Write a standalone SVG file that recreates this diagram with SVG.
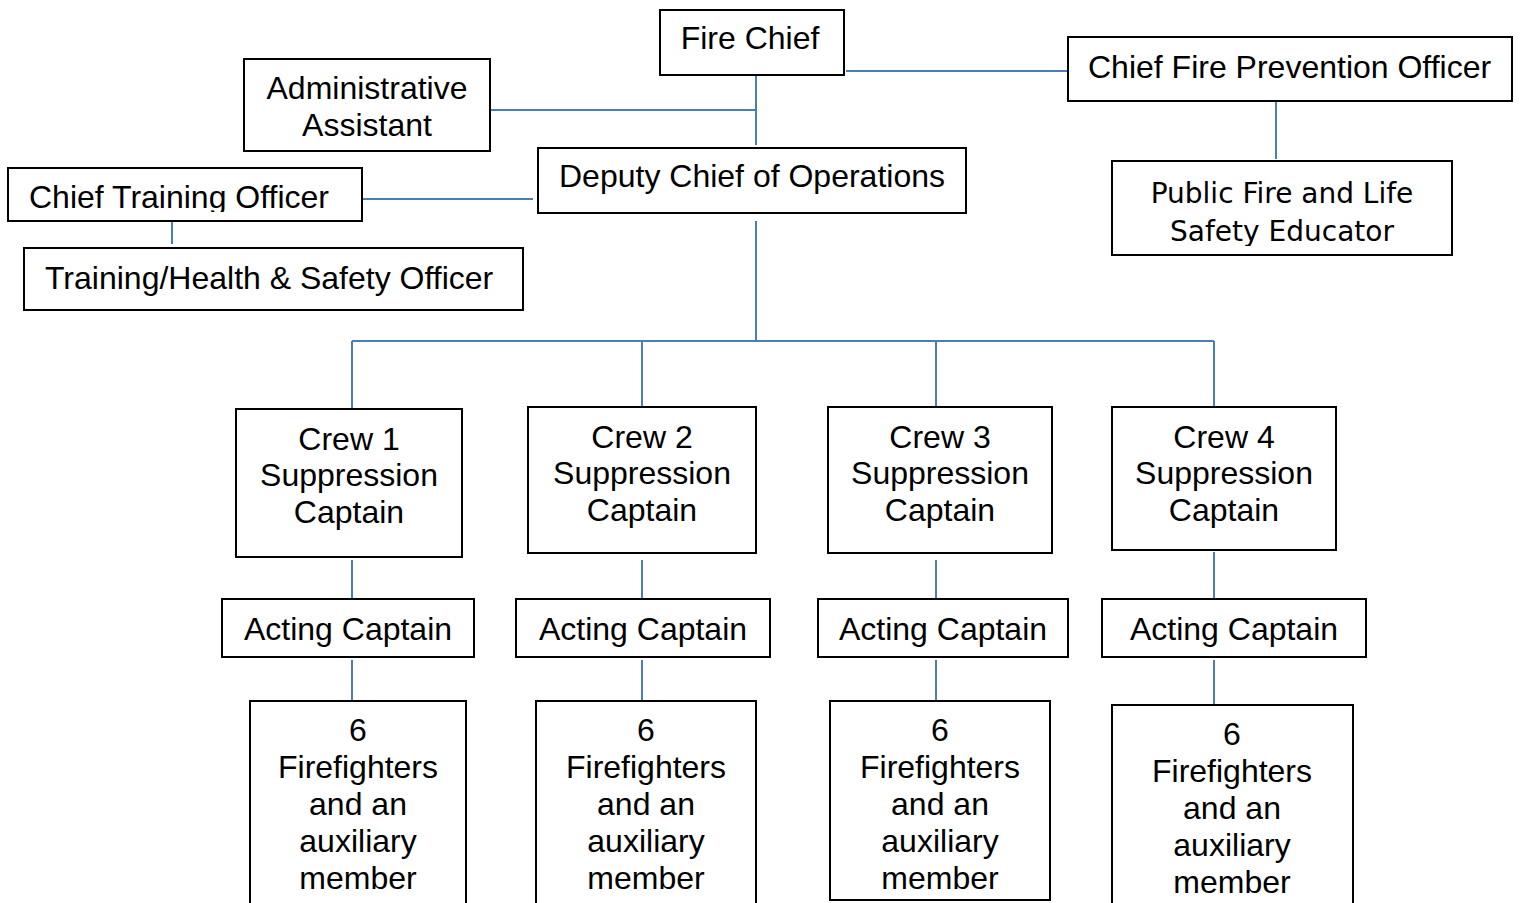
<svg xmlns="http://www.w3.org/2000/svg" width="1522" height="903" viewBox="0 0 1522 903">
<style>
.box{fill:#fff;stroke:#000;stroke-width:2}
.t{font-family:"Liberation Sans",Arial,sans-serif;font-size:32px;fill:#000}
.c{text-anchor:middle}
.d{font-family:"DejaVu Sans",Verdana,sans-serif;font-size:28px;fill:#000;text-anchor:middle}
.ln{stroke:#4A7EBB;stroke-width:2;fill:none}
</style>
<defs>
<clipPath id="clipCTO"><rect x="8" y="168" width="354" height="44"/></clipPath>
<clipPath id="clipPub"><rect x="1112" y="161" width="340" height="85"/></clipPath>
</defs>
<rect width="1522" height="903" fill="#fff"/>
<g id="connectors">
<path class="ln" d="M756 75V145M487 110H756M846 71H1068M1276 100V159M362 199H533M172 221V244M756 221V341M352 341H1214M352 341V408M642 341V406M936 341V406M1214 341V406M352 560V598M642 560V598M936 560V598M1214 552V598M352 660V700M642 660V700M936 660V700M1214 660V704"/>
</g>
<g id="fire-chief"><rect class="box" x="660" y="10" width="184" height="65"/><text class="t c" x="750" y="49">Fire Chief</text></g>
<g id="admin-assistant"><rect class="box" x="244" y="59" width="246" height="92"/><text class="t c" x="367" y="99">Administrative</text><text class="t c" x="367" y="136">Assistant</text></g>
<g id="chief-fire-prevention"><rect class="box" x="1068" y="37" width="444" height="64"/><text class="t" x="1088" y="78">Chief Fire Prevention Officer</text></g>
<g id="public-educator"><rect class="box" x="1112" y="161" width="340" height="94"/><g clip-path="url(#clipPub)"><text class="d" x="1282" y="203">Public Fire and Life</text><text class="d" x="1282" y="241">Safety Educator</text></g></g>
<g id="deputy-chief"><rect class="box" x="538" y="148" width="428" height="65"/><text class="t" x="559" y="187">Deputy Chief of Operations</text></g>
<g id="chief-training"><rect class="box" x="8" y="168" width="354" height="53"/><g clip-path="url(#clipCTO)"><text class="t" x="29" y="208">Chief Training Officer</text></g></g>
<g id="training-health"><rect class="box" x="24" y="248" width="499" height="62"/><text class="t" x="45" y="289">Training/Health &amp; Safety Officer</text></g>
<g id="crew1"><rect class="box" x="236" y="409" width="226" height="148"/><text class="t c" x="349" y="450">Crew 1</text><text class="t c" x="349" y="486">Suppression</text><text class="t c" x="349" y="523">Captain</text></g>
<g id="crew2"><rect class="box" x="528" y="407" width="228" height="146"/><text class="t c" x="642" y="448">Crew 2</text><text class="t c" x="642" y="484">Suppression</text><text class="t c" x="642" y="521">Captain</text></g>
<g id="crew3"><rect class="box" x="828" y="407" width="224" height="146"/><text class="t c" x="940" y="448">Crew 3</text><text class="t c" x="940" y="484">Suppression</text><text class="t c" x="940" y="521">Captain</text></g>
<g id="crew4"><rect class="box" x="1112" y="407" width="224" height="143"/><text class="t c" x="1224" y="448">Crew 4</text><text class="t c" x="1224" y="484">Suppression</text><text class="t c" x="1224" y="521">Captain</text></g>
<g id="acting1"><rect class="box" x="222" y="599" width="252" height="58"/><text class="t c" x="348" y="640">Acting Captain</text></g>
<g id="acting2"><rect class="box" x="516" y="599" width="254" height="58"/><text class="t c" x="643" y="640">Acting Captain</text></g>
<g id="acting3"><rect class="box" x="818" y="599" width="250" height="58"/><text class="t c" x="943" y="640">Acting Captain</text></g>
<g id="acting4"><rect class="box" x="1102" y="599" width="264" height="58"/><text class="t c" x="1234" y="640">Acting Captain</text></g>
<g id="ff1"><rect class="box" x="250" y="701" width="216" height="215"/><text class="t c" x="358" y="741">6</text><text class="t c" x="358" y="778">Firefighters</text><text class="t c" x="358" y="815">and an</text><text class="t c" x="358" y="852">auxiliary</text><text class="t c" x="358" y="889">member</text></g>
<g id="ff2"><rect class="box" x="536" y="701" width="220" height="215"/><text class="t c" x="646" y="741">6</text><text class="t c" x="646" y="778">Firefighters</text><text class="t c" x="646" y="815">and an</text><text class="t c" x="646" y="852">auxiliary</text><text class="t c" x="646" y="889">member</text></g>
<g id="ff3"><rect class="box" x="830" y="701" width="220" height="199"/><text class="t c" x="940" y="741">6</text><text class="t c" x="940" y="778">Firefighters</text><text class="t c" x="940" y="815">and an</text><text class="t c" x="940" y="852">auxiliary</text><text class="t c" x="940" y="889">member</text></g>
<g id="ff4"><rect class="box" x="1112" y="705" width="241" height="215"/><text class="t c" x="1232" y="745">6</text><text class="t c" x="1232" y="782">Firefighters</text><text class="t c" x="1232" y="819">and an</text><text class="t c" x="1232" y="856">auxiliary</text><text class="t c" x="1232" y="893">member</text></g>
</svg>
